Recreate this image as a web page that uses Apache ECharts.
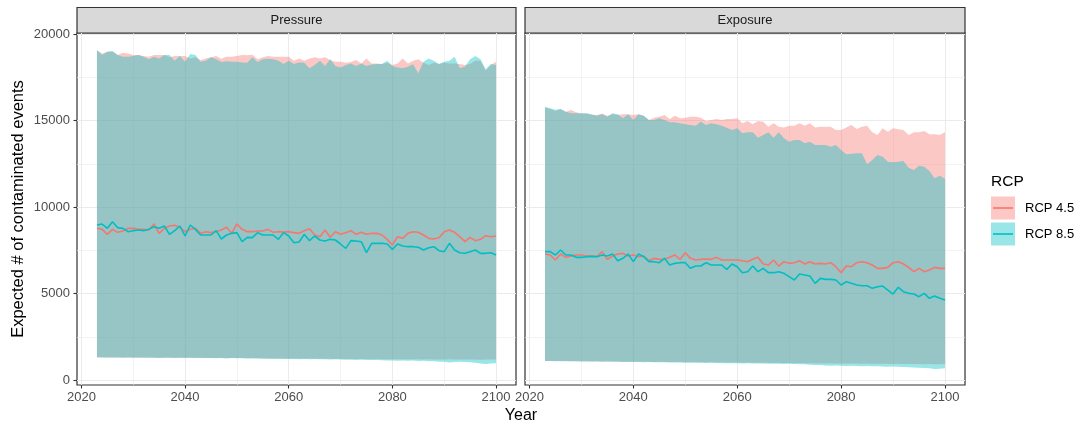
<!DOCTYPE html>
<html>
<head>
<meta charset="utf-8">
<script src="https://cdn.jsdelivr.net/npm/echarts@6/dist/echarts.min.js"></script>
<style>
  html, body { margin: 0; padding: 0; background: #fff; }
  #chart { width: 1079px; height: 428px; }
</style>
</head>
<body>
<div id="chart"></div>
<script>
// years on the x axis
const years = [2023,2024,2025,2026,2027,2028,2029,2030,2031,2032,2033,2034,2035,2036,2037,2038,2039,2040,
  2041,2042,2043,2044,2045,2046,2047,2048,2049,2050,2051,2052,2053,2054,2055,2056,2057,2058,2059,2060,
  2061,2062,2063,2064,2065,2066,2067,2068,2069,2070,2071,2072,2073,2074,2075,2076,2077,2078,2079,2080,
  2081,2082,2083,2084,2085,2086,2087,2088,2089,2090,2091,2092,2093,2094,2095,2096,2097,2098,2099,2100];

const panels = ['Pressure', 'Exposure'];
const groups = ['RCP 4.5', 'RCP 8.5'];

const xTicks = [2020, 2040, 2060, 2080, 2100];
const xMinor = [2030, 2050, 2070, 2090];
const yTicks = [0, 5000, 10000, 15000, 20000];
const yMinor = [2500, 7500, 12500, 17500];

// Pressure, RCP 4.5
const pressure45Hi = [19040,18880,18980,18980,18790,18920,18880,18790,18790,18730,
  18690,18790,18790,18790,18650,18730,18730,18730,18590,18650,
  18500,18590,18650,18730,18570,18690,18690,18730,18790,18770,
  18800,18540,18650,18730,18690,18690,18690,18690,18460,18590,
  18460,18590,18650,18590,18650,18500,18400,18400,18340,18380,
  18500,18300,18590,18300,18300,18270,18340,18210,18300,18590,
  18300,18460,18540,18340,18210,18340,18270,18340,18300,18300,
  18270,18210,18270,18460,18460,17880,18210,18400];
const pressure45Mean = [8767,8709,8420,8709,8536,8613,8767,8767,8709,8709,
  8671,9018,8478,8767,8902,8941,8825,8574,8709,8767,
  8478,8574,8517,8574,8671,8825,8478,9018,8709,8574,
  8574,8613,8613,8709,8536,8574,8555,8574,8517,8478,
  8632,8748,8382,8285,8671,8247,8574,8420,8517,8632,
  8420,8536,8420,8478,8478,8382,8131,7804,8285,8189,
  8478,8574,8536,8382,8189,8150,8228,8574,8671,8536,
  8285,7996,8247,8054,8131,8343,8285,8324];
const pressure45Lo = [1300,1310,1295,1305,1300,1305,1295,1300,1290,1300,
  1295,1285,1290,1280,1290,1285,1280,1290,1280,1285,
  1280,1275,1265,1280,1270,1260,1275,1265,1270,1260,
  1265,1255,1260,1250,1255,1245,1250,1240,1245,1240,
  1235,1240,1230,1235,1225,1230,1220,1225,1215,1220,
  1215,1210,1215,1205,1210,1200,1205,1200,1195,1205,
  1200,1195,1200,1190,1195,1185,1190,1185,1195,1190,
  1185,1190,1180,1185,1175,1180,1190,1185];

// Pressure, RCP 8.5
const pressure85Hi = [19080,18790,18980,19020,18790,18690,18690,18730,18790,18690,
  18540,18690,18590,18790,18790,18460,18730,18400,18840,18790,
  18400,18460,18650,18540,18380,18420,18400,18400,18360,18340,
  18650,18380,18540,18570,18540,18460,18270,18460,18270,18360,
  18340,18020,18210,18460,18150,18540,18150,18070,18210,18300,
  18150,18300,18150,18230,18270,18270,18460,18150,18070,18020,
  18110,18250,17730,18400,18590,18460,18270,18400,18460,18690,
  18020,18110,18540,18730,18540,17960,18270,18210];
const pressure85Mean = [8960,9018,8767,9152,8806,8767,8574,8632,8671,8632,
  8709,8863,8767,8902,8420,8632,8902,8324,8960,8709,
  8382,8382,8382,8632,8150,8382,8478,8517,7996,8247,
  8228,8517,8382,8382,8382,8131,8517,8324,7938,7977,
  8420,8054,8324,8093,8035,8131,8093,7861,7611,8054,
  8035,7996,7360,7900,7900,7900,7861,7553,7861,7746,
  7707,7707,7669,7515,7649,7707,7476,7418,7900,7515,
  7360,7322,7418,7515,7322,7322,7360,7225];
const pressure85Lo = [1310,1300,1305,1295,1300,1290,1300,1285,1295,1290,
  1280,1290,1275,1285,1280,1270,1285,1275,1280,1270,
  1275,1265,1270,1260,1270,1255,1265,1255,1260,1250,
  1245,1240,1230,1235,1220,1225,1215,1210,1220,1205,
  1215,1200,1210,1195,1200,1190,1195,1180,1165,1175,
  1160,1170,1155,1150,1160,1140,1120,1130,1110,1125,
  1115,1120,1105,1110,1090,1080,1060,1050,1010,1040,
  1050,1040,1030,1000,960,920,950,965];

// Exposure, RCP 4.5
const exposure45Hi = [15740,15670,15550,15670,15510,15610,15470,15410,15410,15320,
  15320,15410,15280,15360,15320,15360,15360,15320,15360,15280,
  15030,15160,15220,15320,15090,15280,15130,15160,15220,15220,
  15160,14970,15030,15090,15030,15090,15090,15130,14840,14970,
  14780,14970,14930,14640,14840,14640,14590,14700,14700,14840,
  14700,14840,14590,14640,14640,14640,14450,14450,14590,14740,
  14510,14640,14700,14320,14160,14550,14350,14550,14490,14450,
  14160,14320,14320,14390,14200,14200,14160,14320];
const exposure45Mean = [7283,7225,6936,7283,7090,7167,7225,7225,7167,7186,
  7129,7418,6974,7167,7283,7321,7167,7225,7129,7167,
  6897,7032,6974,6974,7090,7225,6974,7360,7032,6936,
  6974,6994,6974,7090,6936,6936,6936,6936,6897,6840,
  6974,7090,6705,6647,6936,6589,6840,6743,6782,6897,
  6705,6840,6705,6743,6705,6782,6550,6204,6589,6550,
  6782,6840,6782,6647,6454,6454,6512,6782,6840,6705,
  6512,6261,6454,6261,6358,6512,6454,6454];
const exposure45Lo = [1100,1100,1095,1090,1095,1085,1090,1080,1085,1075,
  1080,1070,1075,1065,1070,1060,1065,1055,1060,1050,
  1055,1045,1050,1040,1045,1035,1040,1030,1035,1025,
  1030,1020,1025,1015,1020,1010,1005,1010,1000,1005,
  995,1000,990,995,985,990,980,985,975,980,
  970,975,965,970,960,965,955,960,950,955,
  950,945,950,940,945,935,940,930,935,925,
  930,920,925,915,920,910,915,920];

// Exposure, RCP 8.5
const exposure85Hi = [15800,15703,15626,15665,15510,15414,15414,15414,15414,15356,
  15279,15356,15221,15414,15356,15125,15356,15029,15356,15279,
  15029,15029,15125,15029,14894,14894,14836,14778,14740,14701,
  14932,14740,14836,14778,14701,14586,14451,14547,14258,14316,
  14316,14008,14162,14316,14008,14316,13969,13776,13873,13873,
  13680,13776,13584,13584,13584,13487,13584,13294,13044,13083,
  13102,13102,12466,12716,13005,12909,12620,12582,12620,12659,
  12273,12138,12389,12331,12080,11657,11811,11618];
const exposure85Mean = [7418,7418,7225,7514,7225,7225,7090,7090,7129,7129,
  7129,7225,7167,7283,6897,7032,7283,6840,7283,7129,
  6840,6840,6782,7032,6647,6743,6782,6782,6454,6589,
  6589,6782,6647,6647,6647,6396,6705,6550,6204,6261,
  6589,6261,6454,6204,6204,6261,6165,5972,5780,6127,
  6069,6011,5587,5876,5818,5818,5780,5491,5683,5587,
  5491,5452,5452,5298,5394,5433,5201,4970,5356,5105,
  5009,4970,4816,5009,4720,4855,4720,4623];
const exposure85Lo = [1100,1095,1090,1095,1085,1080,1085,1075,1070,1075,
  1065,1060,1065,1055,1050,1045,1040,1045,1035,1030,
  1035,1025,1020,1025,1010,1005,1010,1000,995,1000,
  990,985,990,980,975,970,975,965,960,965,
  955,950,955,945,940,935,930,935,920,915,
  905,880,870,860,845,830,840,820,815,820,
  810,800,805,790,795,780,770,775,760,750,
  740,720,710,700,680,640,650,680];

const colors = ['#F8766D', '#00BFC4'];
const fills = ['rgba(248,118,109,0.4)', 'rgba(0,191,196,0.4)'];
const font = 'Liberation Sans, Arial, Helvetica, sans-serif';

// panel boxes in px
const panelLeft = [77, 525];
const panelWidth = [439, 440];
const panelTop = 33;
const panelHeight = 352;

const chart = echarts.init(document.getElementById('chart'));

// whole ribbon as one polygon, points through the axis scales
const ribbon = (lo, hi, fill) => {
  return function (params, api) {
    if (params.dataIndex !== 0) return null;
    const pts = [];
    for (let i = 0; i < years.length; i++) pts.push(api.coord([years[i], hi[i]]));
    for (let i = years.length - 1; i >= 0; i--) pts.push(api.coord([years[i], lo[i]]));
    return { type: 'polygon', shape: { points: pts }, style: { fill: fill } };
  };
};

const panelData = [
  [[pressure45Lo, pressure45Hi, pressure45Mean], [pressure85Lo, pressure85Hi, pressure85Mean]],
  [[exposure45Lo, exposure45Hi, exposure45Mean], [exposure85Lo, exposure85Hi, exposure85Mean]]
];

const grids = [], xAxes = [], yAxes = [], series = [], graphics = [];

panels.forEach((name, p) => {
  grids.push({
    left: panelLeft[p], top: panelTop, width: panelWidth[p], height: panelHeight,
    show: true, borderColor: '#333333', borderWidth: 1.2, backgroundColor: '#fff'
  });
});

// major axes
panels.forEach((name, p) => {
  xAxes.push({
    type: 'value', gridIndex: p, min: 2019.15, max: 2103.85,
    axisLine: { show: false, onZero: false },
    axisTick: { show: true, length: 3.5, lineStyle: { color: '#333333', width: 1.1 }, customValues: xTicks },
    axisLabel: { customValues: xTicks, margin: 6, color: '#4D4D4D', fontSize: 13, fontFamily: font,
      formatter: (v) => String(v) },
    splitLine: { show: true, lineStyle: { color: '#EBEBEB', width: 1.1 } }
  });
  yAxes.push({
    type: 'value', gridIndex: p, min: -289, max: 20058,
    axisLine: { show: false, onZero: false },
    axisTick: { show: p === 0, length: 3.5, lineStyle: { color: '#333333', width: 1.1 }, customValues: yTicks },
    axisLabel: { show: p === 0, customValues: yTicks, margin: 7, color: '#4D4D4D', fontSize: 13, fontFamily: font,
      formatter: (v) => String(v) },
    splitLine: { show: true, lineStyle: { color: '#EBEBEB', width: 1.1 } }
  });
});
// minor grid axes
panels.forEach((name, p) => {
  xAxes.push({
    type: 'value', gridIndex: p, min: 2019.15, max: 2103.85,
    axisLine: { show: false, onZero: false },
    axisTick: { show: false, customValues: xMinor },
    axisLabel: { show: false, customValues: xMinor },
    splitLine: { show: true, lineStyle: { color: '#EBEBEB', width: 0.6 } }
  });
  yAxes.push({
    type: 'value', gridIndex: p, min: -289, max: 20058,
    axisLine: { show: false, onZero: false },
    axisTick: { show: false, customValues: yMinor },
    axisLabel: { show: false, customValues: yMinor },
    splitLine: { show: true, lineStyle: { color: '#EBEBEB', width: 0.6 } }
  });
});

// ribbons first, then mean lines
panels.forEach((name, p) => {
  groups.forEach((g, k) => {
    const [lo, hi] = panelData[p][k];
    series.push({
      type: 'custom', name: g, xAxisIndex: p, yAxisIndex: p, silent: true,
      renderItem: ribbon(lo, hi, fills[k]),
      encode: { x: 0, y: [1, 2] },
      data: years.map((y, i) => [y, lo[i], hi[i]])
    });
  });
});
panels.forEach((name, p) => {
  groups.forEach((g, k) => {
    const mean = panelData[p][k][2];
    series.push({
      type: 'line', name: g, xAxisIndex: p, yAxisIndex: p, silent: true,
      showSymbol: false, symbol: 'none',
      lineStyle: { color: colors[k], width: 1.6 },
      data: years.map((y, i) => [y, mean[i]])
    });
  });
});

// facet strips
panels.forEach((name, p) => {
  graphics.push({
    type: 'rect', shape: { x: panelLeft[p], y: 7.5, width: panelWidth[p], height: 25.5 },
    style: { fill: '#D9D9D9', stroke: '#333333', lineWidth: 1.2 }
  });
  graphics.push({
    type: 'text', x: panelLeft[p] + panelWidth[p] / 2, y: 20.5,
    style: { text: name, fill: '#1A1A1A', font: '13px ' + font, align: 'center', verticalAlign: 'middle' }
  });
});

// axis titles
graphics.push({
  type: 'text', x: 18, y: 209, rotation: Math.PI / 2,
  style: { text: 'Expected # of contaminated events', fill: '#000', font: '16.5px ' + font,
    align: 'center', verticalAlign: 'middle' }
});
graphics.push({
  type: 'text', x: 521, y: 416,
  style: { text: 'Year', fill: '#000', font: '16px ' + font, align: 'center', verticalAlign: 'middle' }
});

// legend
graphics.push({
  type: 'text', x: 991, y: 182,
  style: { text: 'RCP', fill: '#000', font: '15.5px ' + font, align: 'left', verticalAlign: 'middle' }
});
groups.forEach((g, k) => {
  const cy = 208 + k * 26;
  graphics.push({
    type: 'rect', shape: { x: 991, y: cy - 11.5, width: 24, height: 23 },
    style: { fill: fills[k] }
  });
  graphics.push({
    type: 'line', shape: { x1: 993, y1: cy, x2: 1013, y2: cy },
    style: { stroke: colors[k], lineWidth: 1.6 }
  });
  graphics.push({
    type: 'text', x: 1025, y: cy,
    style: { text: g, fill: '#000', font: '13px ' + font, align: 'left', verticalAlign: 'middle' }
  });
});

chart.setOption({
  animation: false,
  grid: grids,
  xAxis: xAxes,
  yAxis: yAxes,
  series: series,
  graphic: graphics
});
</script>
</body>
</html>
